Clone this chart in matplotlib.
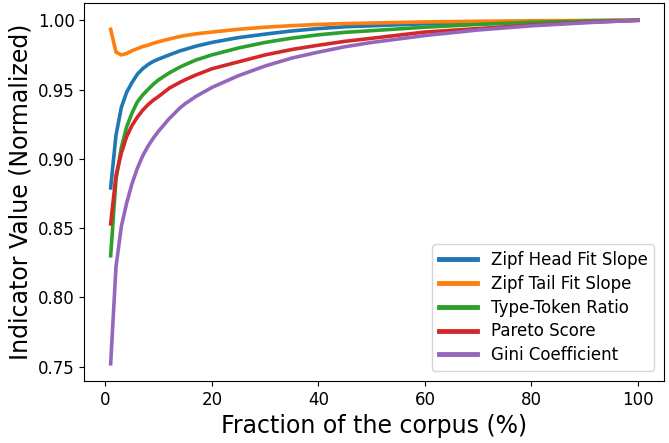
import matplotlib
matplotlib.use("Agg")
import matplotlib.pyplot as plt

fraction = [1, 2, 3, 4, 5, 6, 7, 8, 9, 10, 12, 14, 15, 17, 20, 25, 30, 35, 40, 45, 50,
            60, 70, 80, 90, 100]

zipf_head = [0.879, 0.917, 0.937, 0.948, 0.955, 0.961, 0.965, 0.968, 0.9703, 0.972, 0.975,
             0.9779, 0.979, 0.9813, 0.984, 0.9875, 0.990, 0.9923, 0.994, 0.9953, 0.996,
             0.9975, 0.9985, 0.9992, 0.9997, 1.0]
zipf_tail = [0.9935, 0.977, 0.975, 0.976, 0.978, 0.9795, 0.981, 0.982, 0.9834, 0.9845, 0.9865,
             0.9883, 0.989, 0.9902, 0.9915, 0.9935, 0.995, 0.9961, 0.997, 0.9976, 0.998,
             0.9988, 0.9993, 0.9996, 0.9998, 1.0]
ttr = [0.830, 0.885, 0.908, 0.923, 0.933, 0.941, 0.946, 0.950, 0.9538, 0.957, 0.962,
       0.9662, 0.968, 0.9713, 0.975, 0.980, 0.984, 0.9871, 0.9895, 0.9913, 0.9925,
       0.995, 0.997, 0.9985, 0.9994, 1.0]
pareto = [0.853, 0.888, 0.904, 0.916, 0.924, 0.930, 0.935, 0.939, 0.9423, 0.945, 0.951,
          0.9552, 0.9571, 0.9605, 0.965, 0.970, 0.975, 0.9789, 0.982, 0.9848, 0.987,
          0.9915, 0.994, 0.9965, 0.9985, 1.0]
gini = [0.752, 0.822, 0.851, 0.868, 0.882, 0.893, 0.902, 0.909, 0.9149, 0.920, 0.929,
        0.9367, 0.9398, 0.9450, 0.9515, 0.960, 0.967, 0.9727, 0.977, 0.9809, 0.984,
        0.989, 0.993, 0.996, 0.9982, 1.0]

series = [
    ("Zipf Head Fit Slope", zipf_head, "#1f77b4"),
    ("Zipf Tail Fit Slope", zipf_tail, "#ff7f0e"),
    ("Type-Token Ratio", ttr, "#2ca02c"),
    ("Pareto Score", pareto, "#d62728"),
    ("Gini Coefficient", gini, "#9467bd"),
]

fig = plt.figure(figsize=(6.69, 4.43), dpi=100)
ax = fig.add_axes([0.126, 0.140, 0.867, 0.853])

for label, vals, color in series:
    ax.plot(fraction, vals, color=color, lw=2.6, label=label)

ax.set_xticks([0, 20, 40, 60, 80, 100])
ax.set_yticks([0.75, 0.80, 0.85, 0.90, 0.95, 1.00])
ax.tick_params(labelsize=12)
ax.set_xlabel("Fraction of the corpus (%)", fontsize=17)
ax.set_ylabel("Indicator Value (Normalized)", fontsize=17)

leg = ax.legend(loc="lower right", fontsize=12, labelspacing=0.35,
                handlelength=2.3, borderaxespad=0.6)
for line in leg.get_lines():
    line.set_linewidth(3.5)

fig.savefig("out.png", dpi=100)
